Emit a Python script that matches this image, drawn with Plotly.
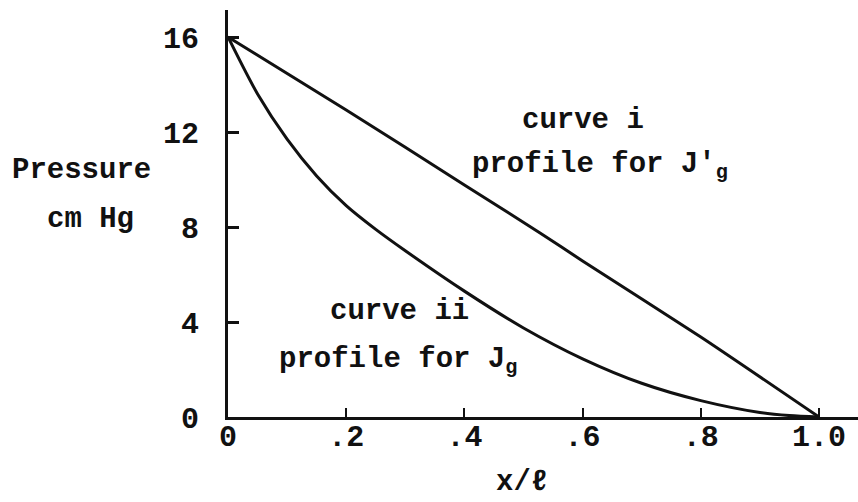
import plotly.graph_objects as go

# Pressure profiles along the tube (x/l), pressure in cm Hg
x_i = [0.0, 0.2, 0.4, 0.528, 0.6, 0.8, 1.0]
p_i = [16.0, 12.93, 9.77, 7.75, 6.57, 3.37, 0.0]

x_ii = [0.0, 0.05, 0.1, 0.15, 0.2, 0.25, 0.3, 0.4, 0.5, 0.6, 0.7, 0.8, 0.9, 0.95, 1.0]
p_ii = [16.0, 13.6, 11.7, 10.15, 8.9, 7.9, 7.0, 5.3, 3.75, 2.45, 1.42, 0.69, 0.19, 0.06, 0.0]

x_tick_vals = [0, 0.2, 0.4, 0.6, 0.8, 1.0]
x_tick_text = ["0", ".2", ".4", ".6", ".8", "1.0"]
y_tick_vals = [0, 4, 8, 12, 16]
y_tick_text = ["0", "4", "8", "12", "16"]

FONT = "Liberation Mono"
INK = "#111111"

# plot-area geometry in pixels, used to place the free text labels
LEFT, RIGHT, TOP, BOTTOM = 228, 858, 10, 417
PX_PER_X = 591.0
PX_PER_Y = 23.75


def px_to_paper(px, py):
    return (px - LEFT) / (RIGHT - LEFT), (BOTTOM - py) / (BOTTOM - TOP)


fig = go.Figure()
fig.add_trace(go.Scatter(x=x_i, y=p_i, mode="lines",
                         line=dict(color=INK, width=3, shape="spline", smoothing=0.6),
                         showlegend=False, hoverinfo="skip"))
fig.add_trace(go.Scatter(x=x_ii, y=p_ii, mode="lines",
                         line=dict(color=INK, width=3, shape="spline", smoothing=0.8),
                         showlegend=False, hoverinfo="skip"))

text_font = dict(family=FONT, size=29, color=INK, weight="bold")
tick_font = dict(family=FONT, size=30, color=INK, weight="bold")

labels = [
    ("curve i", 520, 121, "left"),
    ("profile for J'<sub>g</sub>", 470, 166, "left"),
    ("curve ii", 328, 311, "left"),
    ("profile for J<sub>g</sub>", 277, 361, "left"),
    ("Pressure", 10, 170, "left"),
    ("cm Hg", 45, 219, "left"),
    ("x/ℓ", 522, 482, "center"),
]
for txt, px, py, anchor in labels:
    xp, yp = px_to_paper(px, py)
    fig.add_annotation(x=xp, y=yp, xref="paper", yref="paper", text=txt,
                       showarrow=False, xanchor=anchor, yanchor="middle",
                       font=text_font)

fig.update_xaxes(range=[0, (RIGHT - LEFT) / PX_PER_X], showgrid=False, zeroline=False,
                 showline=True, linecolor=INK, linewidth=3,
                 ticks="inside", ticklen=9, tickwidth=2, tickcolor=INK,
                 tickvals=x_tick_vals, ticktext=x_tick_text,
                 tickfont=tick_font, ticklabelstandoff=-10)
fig.update_yaxes(range=[0, (BOTTOM - TOP) / PX_PER_Y], showgrid=False, zeroline=False,
                 showline=True, linecolor=INK, linewidth=3,
                 ticks="inside", ticklen=11, tickwidth=3, tickcolor=INK,
                 tickvals=y_tick_vals, ticktext=y_tick_text,
                 tickfont=tick_font, ticklabelstandoff=20)

fig.update_layout(width=858, height=502, autosize=False,
                  margin=dict(l=LEFT, r=858 - RIGHT, t=TOP, b=502 - BOTTOM),
                  paper_bgcolor="white", plot_bgcolor="white")

fig.write_html("out.html")
